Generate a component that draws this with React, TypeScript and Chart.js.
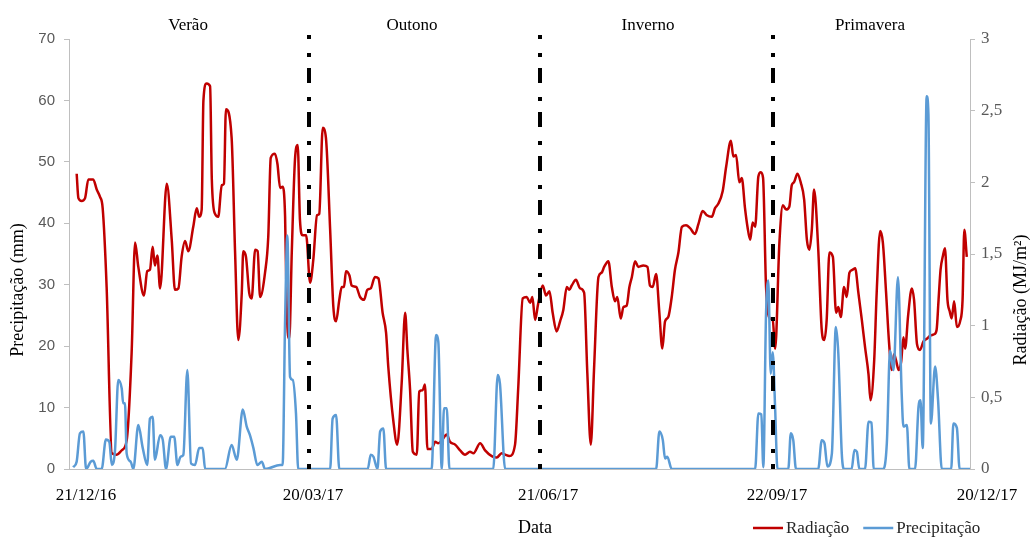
import { useEffect, useRef } from 'react';
import { Chart, registerables } from 'chart.js';

Chart.register(...registerables);

const SERIF = '"Liberation Serif", "Times New Roman", serif';
const SANS = '"Liberation Sans", Arial, sans-serif';

// x axis: days since 21/12/16
const xTickDays = [0, 91.7, 186.7, 279.2, 364];
const xTickLabels = ['21/12/16', '20/03/17', '21/06/17', '22/09/17', '20/12/17'];

const seasonNames = ['Verão', 'Outono', 'Inverno', 'Primavera'];
const seasonCenterDays = [48.1, 138.6, 233.9, 323.6];
const seasonBoundaryDays = [97.0, 190.3, 284.4];

// Radiação (MJ/m²) – [day, value]
const radiacao: [number, number][] = [
  [3.1, 2.06], [3.8, 1.89], [5.1, 1.87], [6.5, 1.89], [7.8, 2.02], [9.8, 2.02], [11.2, 1.95], [12.5, 1.9], [13.6, 1.82], [15.2, 1.27],
  [17.3, 0.11], [19.3, 0.1], [21.3, 0.13], [23.3, 0.2], [25.3, 0.81], [26.7, 1.58], [28.0, 1.41], [30.3, 1.21], [31.6, 1.38], [32.7, 1.39],
  [33.8, 1.55], [34.7, 1.42], [35.7, 1.49], [36.8, 1.26], [39.5, 1.99], [41.5, 1.6], [42.8, 1.25], [44.2, 1.26], [45.5, 1.48], [46.9, 1.59],
  [48.2, 1.52], [50.2, 1.69], [51.6, 1.82], [52.6, 1.76], [53.6, 1.81], [54.3, 2.57], [55.6, 2.69], [57.0, 2.67], [57.7, 2.02], [59.0, 1.78],
  [60.3, 1.76], [61.7, 1.98], [62.6, 1.99], [63.4, 2.51], [65.7, 2.31], [67.1, 1.51], [68.4, 0.9], [69.8, 1.23], [70.4, 1.52], [71.5, 1.48],
  [72.8, 1.23], [73.8, 1.19], [75.2, 1.53], [76.2, 1.52], [77.2, 1.2], [79.2, 1.37], [80.5, 1.62], [81.5, 2.17], [83.2, 2.2], [84.2, 2.13],
  [85.3, 1.96], [86.3, 1.97], [87.3, 1.76], [88.0, 1.09], [89.0, 0.91], [90.0, 1.51], [91.3, 2.16], [92.4, 2.26], [93.3, 1.74], [94.4, 1.63],
  [95.8, 1.63], [97.4, 1.3], [98.7, 1.46], [100.2, 1.77], [101.1, 1.78], [102.5, 2.38], [103.8, 2.31], [105.5, 1.67], [106.8, 1.13], [107.9, 1.03],
  [109.2, 1.18], [110.2, 1.27], [111.1, 1.27], [111.9, 1.38], [113.3, 1.35], [114.2, 1.28], [116.0, 1.27], [117.6, 1.2], [119.2, 1.18], [120.5, 1.25],
  [121.9, 1.26], [123.6, 1.34], [125.0, 1.33], [126.7, 1.09], [128.1, 0.95], [129.0, 0.71], [131.0, 0.34], [132.6, 0.17], [134.4, 0.6], [135.8, 1.09],
  [136.7, 0.83], [137.8, 0.55], [138.9, 0.12], [140.5, 0.1], [141.5, 0.54], [142.9, 0.55], [143.8, 0.59], [144.8, 0.14], [146.5, 0.14], [147.9, 0.19],
  [149.2, 0.18], [150.6, 0.2], [152.6, 0.24], [153.9, 0.19], [156.0, 0.17], [158.0, 0.13], [160.0, 0.1], [162.0, 0.12], [163.4, 0.11], [166.1, 0.18],
  [168.1, 0.13], [170.8, 0.09], [172.8, 0.08], [174.8, 0.11], [176.2, 0.1], [177.9, 0.09], [180.2, 0.17], [181.5, 0.57], [183.3, 1.19], [184.9, 1.2],
  [186.3, 1.16], [187.2, 1.2], [188.3, 1.04], [189.5, 1.15], [191.4, 1.28], [192.7, 1.21], [194.1, 1.24], [195.4, 1.09], [197.0, 0.96], [198.4, 1.03],
  [199.7, 1.11], [201.1, 1.27], [202.1, 1.25], [203.1, 1.28], [204.8, 1.32], [206.5, 1.26], [208.1, 1.23], [209.4, 0.67], [210.8, 0.17], [212.1, 0.69],
  [213.9, 1.34], [215.2, 1.37], [216.2, 1.41], [217.9, 1.45], [219.3, 1.27], [220.6, 1.17], [221.5, 1.2], [222.9, 1.05], [224.0, 1.13], [225.3, 1.14],
  [226.4, 1.27], [227.4, 1.34], [228.7, 1.45], [230.0, 1.41], [232.0, 1.42], [233.7, 1.41], [234.7, 1.28], [235.8, 1.27], [237.2, 1.36], [238.5, 1.09],
  [239.7, 0.84], [240.8, 1.03], [242.1, 1.06], [243.5, 1.2], [244.8, 1.39], [246.2, 1.51], [247.6, 1.69], [249.3, 1.7], [250.9, 1.68], [252.9, 1.64],
  [254.3, 1.71], [256.0, 1.8], [257.7, 1.77], [259.7, 1.76], [261.0, 1.82], [262.3, 1.85], [264.1, 1.94], [265.5, 2.11], [267.4, 2.29], [268.4, 2.18],
  [269.5, 2.19], [270.8, 2.0], [271.8, 2.03], [273.1, 1.82], [274.1, 1.69], [275.2, 1.6], [276.2, 1.72], [277.2, 1.69], [278.5, 2.04], [279.5, 2.07],
  [280.4, 2.03], [281.6, 1.27], [283.2, 1.05], [284.3, 1.04], [285.3, 0.84], [287.0, 1.58], [288.4, 1.84], [289.7, 1.81], [291.0, 1.83], [292.0, 1.98],
  [292.9, 2.0], [294.3, 2.06], [295.6, 2.0], [297.0, 1.88], [298.1, 1.6], [299.1, 1.53], [300.1, 1.67], [301.0, 1.95], [302.7, 1.53], [304.1, 0.97],
  [305.1, 0.9], [306.1, 1.04], [307.2, 1.51], [308.6, 1.48], [309.9, 1.09], [310.8, 1.13], [311.8, 1.06], [313.1, 1.27], [314.2, 1.2], [315.3, 1.37],
  [316.6, 1.39], [317.6, 1.4], [318.9, 1.23], [320.3, 1.04], [321.6, 0.85], [323.0, 0.66], [323.8, 0.48], [325.3, 0.76], [326.3, 1.23], [327.7, 1.66],
  [328.8, 1.58], [330.1, 1.23], [331.3, 0.88], [332.4, 0.69], [333.3, 0.8], [334.1, 0.76], [335.2, 0.69], [336.2, 0.75], [337.1, 0.92], [337.8, 0.84],
  [339.0, 1.07], [340.5, 1.26], [341.4, 1.18], [342.6, 0.87], [343.8, 0.83], [345.2, 0.89], [346.7, 0.91], [347.9, 0.93], [349.5, 0.94], [350.5, 0.97],
  [351.3, 1.18], [352.1, 1.39], [353.1, 1.49], [353.9, 1.54], [354.9, 1.18], [355.8, 1.1], [356.6, 1.05], [357.6, 1.17], [358.7, 0.99], [360.0, 1.03],
  [361.0, 1.18], [361.7, 1.67], [362.7, 1.48],
];

// Precipitação (mm) – [day, value]
const precipitacao: [number, number][] = [
  [1.7, 0.3], [3.1, 1.2], [4.4, 5.8], [5.8, 6.1], [6.9, 0], [8.8, 1.2], [9.8, 1.35], [11.2, 0], [13.2, 0], [14.9, 4.8],
  [16.3, 4.4], [17.3, 0.65], [18.6, 3.1], [19.9, 14.5], [21.3, 13.1], [21.9, 10.7], [22.6, 10.7], [23.3, 2.5], [24.9, 1.2], [26.0, 0],
  [28.0, 7.15], [29.8, 3.4], [31.6, 0.65], [32.7, 8.2], [33.8, 8.5], [34.7, 1.5], [36.8, 5.5], [37.9, 4.7], [39.2, 0], [41.1, 5.25],
  [42.5, 5.25], [43.8, 0.65], [45.1, 2.0], [46.2, 2.3], [47.8, 16.1], [49.3, 0.9], [50.9, 0.65], [52.6, 3.4], [54.0, 3.4], [55.0, 0],
  [63.0, 0], [65.7, 3.9], [67.8, 1.5], [70.2, 9.7], [71.8, 6.9], [73.1, 5.5], [74.5, 3.4], [76.1, 0.65], [77.9, 1.2], [79.2, 0],
  [85.3, 0.65], [86.3, 0.65], [87.3, 24.2], [88.2, 38.0], [89.3, 15.0], [90.4, 14.5], [91.7, 9.05], [92.6, 0], [105.5, 0], [106.5, 8.2],
  [107.9, 8.8], [109.2, 0], [120.7, 0], [121.9, 2.3], [123.0, 2.0], [124.6, 0], [125.7, 6.1], [127.0, 6.6], [128.1, 0], [146.5, 0],
  [148.3, 21.8], [149.2, 20.7], [150.6, 0], [151.5, 9.9], [152.6, 9.9], [153.7, 0], [171.4, 0], [173.2, 15.3], [174.1, 13.9], [176.2, 0],
  [237.2, 0], [238.5, 6.1], [239.9, 4.7], [240.8, 1.7], [241.7, 2.0], [243.5, 0], [277.2, 0], [278.5, 9.05], [279.7, 8.9], [280.5, 0.3],
  [281.6, 25.3], [282.5, 30.7], [283.5, 15.5], [284.3, 19.0], [285.3, 9.6], [286.2, 0], [290.6, 0], [291.6, 5.8], [292.6, 4.7], [293.7, 0],
  [302.7, 0], [304.1, 4.7], [305.2, 4.2], [306.4, 0.4], [308.2, 2.5], [309.8, 23.1], [310.8, 18.8], [312.2, 2.5], [313.1, 0], [316.2, 0],
  [317.3, 3.1], [318.3, 2.8], [319.3, 0], [321.6, 0], [323.0, 7.7], [324.2, 7.55], [325.1, 0], [329.0, 0], [330.4, 4.2], [331.7, 19.3],
  [333.1, 16.1], [334.9, 31.2], [336.4, 12.3], [337.1, 6.9], [338.5, 7.15], [339.5, 0], [341.8, 0], [343.2, 10.1], [344.0, 11.2], [344.9, 3.4],
  [346.5, 60.7], [347.2, 57.8], [348.2, 7.4], [349.9, 16.7], [351.1, 11.2], [352.6, 0], [356.4, 0], [357.3, 7.4], [358.7, 6.7], [359.8, 0],
  [364, 0],
];

const leftTitle = 'Precipitação (mm)';
const rightTitle = 'Radiação (MJ/m²)';
const xTitle = 'Data';

const overlay = {
  id: 'overlay',
  afterDatasetsDraw(chart: any) {
    const { ctx, chartArea, scales } = chart;
    const xs = scales.x;
    ctx.save();
    ctx.strokeStyle = '#000';
    ctx.lineWidth = 4;
    ctx.lineCap = 'butt';
    ctx.setLineDash([15, 14, 4, 11]);
    ctx.lineDashOffset = 11;
    seasonBoundaryDays.forEach((d) => {
      const px = Math.round(xs.getPixelForValue(d));
      ctx.beginPath();
      ctx.moveTo(px, 35);
      ctx.lineTo(px, chartArea.bottom);
      ctx.stroke();
    });
    ctx.restore();
  },
  afterDraw(chart: any) {
    const { ctx, scales } = chart;
    const xs = scales.x;
    ctx.save();
    // season names
    ctx.fillStyle = '#000';
    ctx.font = `17px ${SERIF}`;
    ctx.textAlign = 'center';
    ctx.textBaseline = 'alphabetic';
    seasonNames.forEach((n, i) => {
      ctx.fillText(n, xs.getPixelForValue(seasonCenterDays[i]), 30);
    });
    // axis titles
    ctx.font = `18px ${SERIF}`;
    ctx.textBaseline = 'middle';
    ctx.save();
    ctx.translate(18, 290);
    ctx.rotate(-Math.PI / 2);
    ctx.fillText(leftTitle, 0, 0);
    ctx.restore();
    ctx.save();
    ctx.translate(1021, 300);
    ctx.rotate(-Math.PI / 2);
    ctx.fillText(rightTitle, 0, 0);
    ctx.restore();
    ctx.textAlign = 'left';
    ctx.textBaseline = 'alphabetic';
    ctx.fillText(xTitle, 518, 533);
    // legend
    ctx.font = `17px ${SERIF}`;
    let lx = 753;
    const ly = 528;
    chart.data.datasets.forEach((ds: any) => {
      ctx.strokeStyle = ds.borderColor;
      ctx.lineWidth = 2.5;
      ctx.beginPath();
      ctx.moveTo(lx, ly);
      ctx.lineTo(lx + 30, ly);
      ctx.stroke();
      ctx.fillStyle = '#262626';
      ctx.fillText(ds.label, lx + 33, 533);
      lx += 33 + ctx.measureText(ds.label).width + 14;
    });
    ctx.restore();
  },
};

export default function App() {
  const ref = useRef<HTMLCanvasElement | null>(null);
  useEffect(() => {
    if (!ref.current) return;
    const chart = new Chart(ref.current, {
      type: 'line',
      data: {
        datasets: [
          {
            label: 'Radiação',
            data: radiacao.map(([x, y]) => ({ x, y })),
            yAxisID: 'y1',
            borderColor: '#C00000',
            borderWidth: 2.5,
            pointRadius: 0,
            cubicInterpolationMode: 'monotone',
            order: 2,
          },
          {
            label: 'Precipitação',
            data: precipitacao.map(([x, y]) => ({ x, y })),
            yAxisID: 'y',
            borderColor: '#5B9BD5',
            borderWidth: 2.5,
            pointRadius: 0,
            cubicInterpolationMode: 'monotone',
            order: 1,
          },
        ],
      },
      options: {
        responsive: false,
        animation: false,
        layout: { padding: { top: 39, left: 0, right: 0, bottom: 0 } },
        plugins: { legend: { display: false }, tooltip: { enabled: false } },
        scales: {
          x: {
            type: 'linear',
            min: 0,
            max: 364,
            grid: { display: false, drawTicks: false },
            border: { display: true, color: '#BFBFBF', width: 1 },
            ticks: {
              autoSkip: false,
              maxRotation: 0,
              minRotation: 0,
              labelOffset: 17,
              padding: 16,
              color: '#000',
              font: { family: SERIF, size: 17 },
              callback: (v: any) => {
                const i = xTickDays.indexOf(Number(v));
                return i >= 0 ? xTickLabels[i] : '';
              },
            },
            afterBuildTicks: (s: any) => {
              s.ticks = xTickDays.map((v) => ({ value: v }));
            },
            afterFit: (s: any) => {
              s.height = 68;
            },
          },
          y: {
            position: 'left',
            min: 0,
            max: 70,
            ticks: { stepSize: 10, color: '#595959', font: { family: SANS, size: 15 }, padding: 9 },
            grid: { drawOnChartArea: false, tickLength: 5, color: '#BFBFBF' },
            border: { color: '#BFBFBF' },
            afterFit: (s: any) => {
              s.width = 69;
            },
          },
          y1: {
            position: 'right',
            min: 0,
            max: 3,
            ticks: {
              stepSize: 0.5,
              color: '#595959',
              font: { family: SERIF, size: 17 },
              padding: 6,
              callback: (v: any) => String(v).replace('.', ','),
            },
            grid: { drawOnChartArea: false, tickLength: 5, color: '#BFBFBF' },
            border: { color: '#BFBFBF' },
            afterFit: (s: any) => {
              s.width = 61;
            },
          },
        },
      },
      plugins: [overlay],
    } as any);
    return () => chart.destroy();
  }, []);
  return (
    <div style={{ position: 'fixed', left: 0, top: 0, width: 1031, height: 537, background: '#fff' }}>
      <canvas ref={ref} width={1031} height={537} style={{ display: 'block' }} />
    </div>
  );
}
